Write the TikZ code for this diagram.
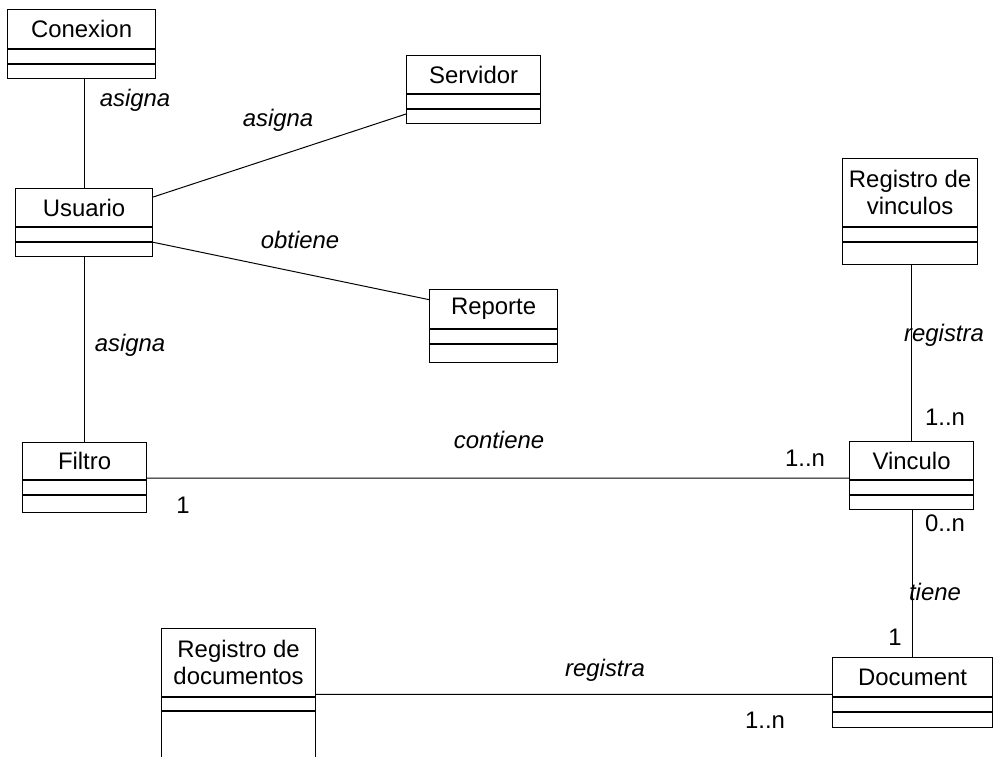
\documentclass[tikz,border=0pt]{standalone}
\usepackage{fontspec}
\setmainfont{Liberation Sans}
\usetikzlibrary{positioning,calc}

\begin{document}
\begin{tikzpicture}[x=0.025cm, y=-0.025cm]
		\tikzstyle{every node}=[font=\fontsize{17}{19}\selectfont]
		\tikzstyle{classname}=[draw, line width=0.8pt, anchor=north west, inner sep=0pt, align=center]
		\tikzstyle{classpart}=[draw, line width=0.8pt, anchor=north, inner sep=0pt, minimum height=0.35cm]
		\tikzstyle{assoc}=[line width=0.7pt]
		\tikzstyle{role}=[font=\fontsize{17}{19}\selectfont\itshape]
		\path[use as bounding box, clip] (0,0) rectangle (999,756);
		% classes
		\node [classname, minimum width=3.7cm, minimum height=0.975cm] (conexion) at (7,9) {Conexion};
		\node [classpart, minimum width=3.7cm] (conexion-attr) at (conexion.south) {};
		\node [classpart, minimum width=3.7cm] (conexion-op) at (conexion-attr.south) {};
		\node [classname, minimum width=3.425cm, minimum height=0.95cm] (usuario) at (15,188) {Usuario};
		\node [classpart, minimum width=3.425cm] (usuario-attr) at (usuario.south) {};
		\node [classpart, minimum width=3.425cm] (usuario-op) at (usuario-attr.south) {};
		\node [classname, minimum width=3.35cm, minimum height=0.95cm] (servidor) at (406,55) {Servidor};
		\node [classpart, minimum width=3.35cm] (servidor-attr) at (servidor.south) {};
		\node [classpart, minimum width=3.35cm] (servidor-op) at (servidor-attr.south) {};
		\node [classname, minimum width=3.2cm, minimum height=0.975cm] (reporte) at (429,289) {Reporte};
		\node [classpart, minimum width=3.2cm] (reporte-attr) at (reporte.south) {};
		\node [classpart, minimum width=3.2cm, minimum height=0.45cm] (reporte-op) at (reporte-attr.south) {};
		\node [classname, minimum width=3.375cm, minimum height=1.7cm] (regvinc) at (842,158) {Registro de\\vinculos};
		\node [classpart, minimum width=3.375cm] (regvinc-attr) at (regvinc.south) {};
		\node [classpart, minimum width=3.375cm, minimum height=0.55cm] (regvinc-op) at (regvinc-attr.south) {};
		\node [classname, minimum width=3.1cm, minimum height=0.925cm] (filtro) at (22,442) {Filtro};
		\node [classpart, minimum width=3.1cm] (filtro-attr) at (filtro.south) {};
		\node [classpart, minimum width=3.1cm, minimum height=0.425cm] (filtro-op) at (filtro-attr.south) {};
		\node [classname, minimum width=3.1cm, minimum height=0.95cm] (vinculo) at (849,441) {Vinculo};
		\node [classpart, minimum width=3.1cm] (vinculo-attr) at (vinculo.south) {};
		\node [classpart, minimum width=3.1cm] (vinculo-op) at (vinculo-attr.south) {};
		\node [classname, minimum width=3.85cm, minimum height=1.7cm] (regdoc) at (161,628) {Registro de\\documentos};
		\node [classpart, minimum width=3.85cm, minimum height=0.325cm] (regdoc-attr) at (regdoc.south) {};
		\node [classpart, minimum width=3.85cm, minimum height=1.5cm] (regdoc-op) at (regdoc-attr.south) {};
		\node [classname, minimum width=4cm, minimum height=0.975cm] (document) at (832,657) {Document};
		\node [classpart, minimum width=4cm] (document-attr) at (document.south) {};
		\node [classpart, minimum width=4cm, minimum height=0.375cm] (document-op) at (document-attr.south) {};
		% associations
		\draw [assoc] (usuario.north) -- (usuario.north |- conexion-op.south);
		\draw [assoc] ([yshift=-6.4pt]usuario.north east) -- ([yshift=2pt]servidor-op.west);
		\draw [assoc] (usuario-attr.south east) -- ([yshift=6.7pt]reporte.west);
		\draw [assoc] (filtro.north) -- (filtro.north |- usuario-op.south);
		\draw [assoc] ([yshift=1.4pt]filtro.south east) -- ([yshift=1.4pt]vinculo.south west);
		\draw [assoc] (vinculo.north) -- (vinculo.north |- regvinc-op.south);
		\draw [assoc] (document.north) -- (document.north |- vinculo-op.south);
		\draw [assoc] ([yshift=2pt]regdoc.south east) -- ([yshift=2pt]document.south west);
		% role names and multiplicities
		\node [role] (r-asigna1) at (135,100) {asigna};
		\node [role] (r-asigna2) at (278,120) {asigna};
		\node [role] (r-obtiene) at (300,240) {obtiene};
		\node [role] (r-asigna3) at (130,345) {asigna};
		\node [role] (r-contiene) at (499,440) {contiene};
		\node [role] (r-registra1) at (944,335) {registra};
		\node [role] (r-tiene) at (935,592) {tiene};
		\node [role] (r-registra2) at (605,670) {registra};
		\node (m-filtro) at (183,505) {1};
		\node (m-vinculo1) at (805,458) {1..n};
		\node (m-vinculo2) at (945,417) {1..n};
		\node (m-vinculo3) at (945,523) {0..n};
		\node (m-document1) at (895,637) {1};
		\node (m-document2) at (765,720) {1..n};
	\end{tikzpicture}
\end{document}
